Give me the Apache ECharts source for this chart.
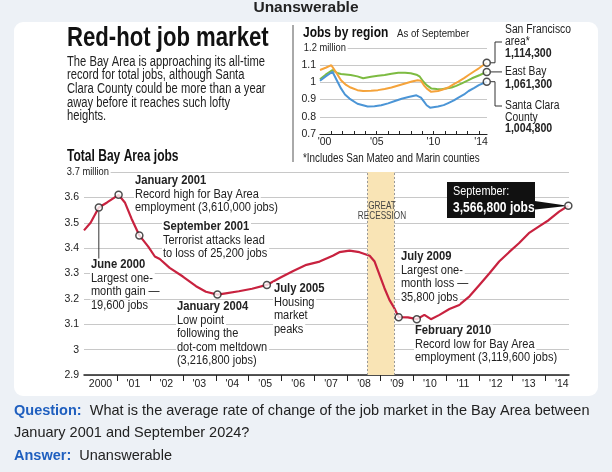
<!DOCTYPE html>
<html>
<head>
<meta charset="utf-8">
<script src="https://cdn.jsdelivr.net/npm/echarts@6/dist/echarts.min.js"></script>
<style>html,body{margin:0;padding:0;background:#edf1f6;}#c{width:612px;height:472px;}</style>
</head>
<body>
<div id="c"></div>
<script>
// ---- Data: Total Bay Area jobs (millions), [year fraction, value]
var totalYears = [2000.0, 2000.2, 2000.45, 2000.7, 2001.05, 2001.24, 2001.44, 2001.68, 2001.95, 2002.15, 2002.3, 2002.6, 2003.0, 2003.4, 2003.7, 2004.05, 2004.3, 2004.7, 2005.1, 2005.55, 2005.95, 2006.35, 2006.75, 2007.15, 2007.55, 2007.75, 2008.06, 2008.36, 2008.67, 2008.82, 2008.97, 2009.12, 2009.27, 2009.42, 2009.55, 2009.83, 2010.1, 2010.33, 2010.53, 2010.79, 2011.09, 2011.39, 2011.7, 2012.0, 2012.3, 2012.6, 2012.9, 2013.2, 2013.5, 2013.8, 2014.1, 2014.42, 2014.7];
var totalJobs  = [3.47, 3.50, 3.56, 3.58, 3.61, 3.58, 3.517, 3.45, 3.406, 3.367, 3.357, 3.322, 3.288, 3.25, 3.228, 3.217, 3.222, 3.23, 3.24, 3.255, 3.283, 3.31, 3.334, 3.347, 3.37, 3.384, 3.39, 3.384, 3.37, 3.347, 3.295, 3.242, 3.196, 3.163, 3.128, 3.127, 3.12, 3.137, 3.12, 3.137, 3.16, 3.176, 3.21, 3.255, 3.30, 3.347, 3.384, 3.419, 3.459, 3.485, 3.51, 3.544, 3.567];
// annotated months
var markYears = [2000.45, 2001.05, 2001.68, 2004.05, 2005.55, 2009.55, 2010.1, 2014.7];
var markJobs  = [3.56, 3.61, 3.45, 3.217, 3.255, 3.128, 3.12, 3.567];
var recession = [2008.6, 2009.42];
var mainTickLabels = ['2000', "'01", "'02", "'03", "'04", "'05", "'06", "'07", "'08", "'09", "'10", "'11", "'12", "'13", "'14"];

// ---- Data: Jobs by region (millions)
var sfYears = [2000.0, 2000.5, 2001.0, 2001.4, 2001.85, 2002.3, 2002.7, 2003.3, 2003.8, 2004.5, 2005.1, 2005.7, 2006.3, 2006.9, 2007.5, 2008.1, 2008.6, 2008.9, 2009.2, 2009.4, 2009.8, 2010.4, 2010.9, 2011.3, 2011.8, 2012.2, 2012.7, 2013.1, 2013.6, 2014.0, 2014.7];
var sfJobs  = [1.072, 1.085, 1.10, 1.06, 1.013, 0.985, 0.97, 0.955, 0.95, 0.952, 0.955, 0.962, 0.97, 0.982, 0.994, 1.005, 1.013, 1.01, 0.98, 0.965, 0.945, 0.95, 0.96, 0.97, 0.99, 1.004, 1.025, 1.043, 1.065, 1.082, 1.114];
var ebYears = [2000.0, 2000.5, 2001.1, 2001.5, 2001.85, 2002.7, 2003.3, 2003.8, 2004.5, 2005.1, 2005.7, 2006.3, 2006.9, 2007.5, 2008.0, 2008.5, 2008.8, 2009.1, 2009.4, 2009.8, 2010.3, 2010.7, 2011.1, 2011.6, 2012.0, 2012.5, 2013.0, 2013.4, 2014.1, 2014.7];
var ebJobs  = [1.018, 1.045, 1.072, 1.055, 1.049, 1.043, 1.035, 1.024, 1.033, 1.038, 1.043, 1.05, 1.056, 1.056, 1.053, 1.045, 1.033, 1.005, 0.984, 0.965, 0.962, 0.96, 0.965, 0.97, 0.98, 0.994, 1.01, 1.024, 1.043, 1.061];
var scYears = [2000.0, 2000.5, 2001.1, 2001.5, 2001.85, 2002.2, 2002.6, 2003.3, 2004.2, 2004.8, 2005.4, 2006.0, 2006.6, 2007.2, 2007.8, 2008.5, 2008.9, 2009.2, 2009.4, 2009.7, 2010.4, 2010.9, 2011.3, 2011.8, 2012.2, 2012.7, 2013.1, 2013.6, 2014.0, 2014.7];
var scJobs  = [1.01, 1.035, 1.062, 1.01, 0.965, 0.93, 0.906, 0.876, 0.86, 0.862, 0.867, 0.878, 0.892, 0.905, 0.915, 0.925, 0.912, 0.885, 0.867, 0.853, 0.86, 0.868, 0.88, 0.895, 0.912, 0.93, 0.95, 0.968, 0.984, 1.004];
var insetTickLabels = ["'00", "'05", "'10", "'14"];
var insetLabelYears = [2000.4, 2005, 2010, 2014.2];

function pairs(xs, ys) { return xs.map(function (x, i) { return [x, ys[i]]; }); }
var yearsInt = []; for (var y = 2001; y <= 2014; y++) yearsInt.push(y);
var midYears = []; for (var m = 2000; m <= 2014; m++) midYears.push(m + 0.5);

var SANS = '"Liberation Sans", Arial, sans-serif';
var RED = '#c8223f';

var chart = echarts.init(document.getElementById('c'), null, { renderer: 'canvas' });

var option = {
  animation: false,
  backgroundColor: '#edf1f6',
  grid: [
    { left: 84, top: 172, width: 485, height: 203 },
    { left: 320, top: 48, width: 167, height: 86 }
  ],
  xAxis: [
    { gridIndex: 0, type: 'value', min: 2000, max: 2014.72,
      axisLine: { show: true, lineStyle: { color: '#222', width: 1.5 } },
      axisTick: { show: true, customValues: yearsInt, length: 6, inside: false, lineStyle: { color: '#222', width: 1 } },
      axisLabel: { show: true, customValues: midYears, margin: 4, fontSize: 10.5, color: '#222', fontFamily: SANS,
        formatter: function (v) { return mainTickLabels[Math.round(v - 0.5) - 2000]; } },
      splitLine: { show: false } },
    { gridIndex: 1, type: 'value', min: 2000, max: 2014.72,
      axisLine: { show: true, lineStyle: { color: '#222', width: 1.2 } },
      axisTick: { show: true, customValues: yearsInt, length: 3, inside: true, lineStyle: { color: '#222', width: 1 } },
      axisLabel: { show: true, customValues: insetLabelYears, margin: 3, fontSize: 10.5, color: '#222', fontFamily: SANS,
        formatter: function (v) { return insetTickLabels[insetLabelYears.indexOf(v)]; } },
      splitLine: { show: false } }
  ],
  yAxis: [
    { gridIndex: 0, type: 'value', min: 2.9, max: 3.7, interval: 0.1,
      axisLine: { show: false }, axisTick: { show: false },
      axisLabel: { margin: 5, fontSize: 10.5, color: '#222', fontFamily: SANS,
        formatter: function (v) { var r = Math.round(v * 10) / 10; if (r === 3.7) return ''; return r === 3 ? '3' : r.toFixed(1); } },
      splitLine: { lineStyle: { color: '#c8c8c8', width: 1 } } },
    { gridIndex: 1, type: 'value', min: 0.7, max: 1.2, interval: 0.1,
      axisLine: { show: false }, axisTick: { show: false },
      axisLabel: { margin: 4, fontSize: 10.5, color: '#222', fontFamily: SANS,
        formatter: function (v) { var r = Math.round(v * 10) / 10; if (r === 1.2) return ''; return r === 1 ? '1' : r.toFixed(1); } },
      splitLine: { lineStyle: { color: '#c8c8c8', width: 1 } } }
  ],
  series: [
    { type: 'line', xAxisIndex: 0, yAxisIndex: 0, data: pairs(totalYears, totalJobs), symbol: 'none',
      lineStyle: { color: RED, width: 2.2 }, z: 4,
      markArea: { silent: true, itemStyle: { color: '#f9e4b5' }, data: [[{ xAxis: recession[0] }, { xAxis: recession[1] }]] },
      markLine: { silent: true, symbol: 'none', label: { show: false },
        lineStyle: { color: '#999', type: [2, 2], width: 1 },
        data: [{ xAxis: recession[0] }, { xAxis: recession[1] }] } },
    { type: 'scatter', xAxisIndex: 0, yAxisIndex: 0, data: pairs(markYears, markJobs), symbol: 'circle', symbolSize: 7,
      itemStyle: { color: '#fff', borderColor: '#222', borderWidth: 1.5 }, z: 6 },
    { type: 'line', xAxisIndex: 1, yAxisIndex: 1, data: pairs(ebYears, ebJobs), symbol: 'none', lineStyle: { color: '#7dbb42', width: 2 }, z: 3 },
    { type: 'line', xAxisIndex: 1, yAxisIndex: 1, data: pairs(sfYears, sfJobs), symbol: 'none', lineStyle: { color: '#f5a33a', width: 2 }, z: 4 },
    { type: 'line', xAxisIndex: 1, yAxisIndex: 1, data: pairs(scYears, scJobs), symbol: 'none', lineStyle: { color: '#4b95d6', width: 2 }, z: 4 },
    { type: 'scatter', xAxisIndex: 1, yAxisIndex: 1,
      data: [[sfYears[sfYears.length - 1], sfJobs[sfJobs.length - 1]], [ebYears[ebYears.length - 1], ebJobs[ebJobs.length - 1]], [scYears[scYears.length - 1], scJobs[scJobs.length - 1]]],
      symbol: 'circle', symbolSize: 7, itemStyle: { color: '#fff', borderColor: '#222', borderWidth: 1.5 }, z: 6 }
  ]
};
chart.setOption(option);

// text helper; sx = horizontal condensing factor (the original uses a condensed face)
function T(x, y, text, size, weight, opts) {
  opts = opts || {};
  return { type: 'text', x: x, y: y, z: opts.z || 20, silent: true, scaleX: opts.sx || 1,
    style: { text: text, fontSize: size, fontWeight: weight || 'normal', fontFamily: SANS,
      fill: opts.color || '#222', verticalAlign: 'middle', align: opts.align || 'left',
      backgroundColor: opts.bg, padding: opts.bg ? [0, 2, 0, 1] : 0 } };
}
function block(x, y0, head, lines, step) {
  var out = [T(x, y0, head, 12.5, 'bold', { bg: '#fff', sx: 0.9 })];
  lines.forEach(function (l, i) { out.push(T(x, y0 + (i + 1) * (step || 13.5), l, 12, 'normal', { bg: '#fff', sx: 0.92 })); });
  return out;
}
function px(idx, pt) { return chart.convertToPixel({ xAxisIndex: idx, yAxisIndex: idx }, pt); }

var g = [];
// card
g.push({ type: 'rect', z: -50, silent: true, shape: { x: 14, y: 22, width: 584, height: 374, r: 9 }, style: { fill: '#ffffff' } });
g.push(T(306, 8, 'Unanswerable', 15.5, 'bold', { align: 'center', color: '#222' }));
// left header
g.push(T(67, 39, 'Red-hot job market', 27, 'bold', { color: '#111', sx: 0.82 }));
['The Bay Area is approaching its all-time', 'record for total jobs, although Santa', 'Clara County could be more than a year', 'away before it reaches such lofty', 'heights.']
  .forEach(function (l, i) { g.push(T(67, 62 + i * 13.6, l, 14, 'normal', { color: '#222', sx: 0.8 })); });
g.push(T(67, 156, 'Total Bay Area jobs', 16.5, 'bold', { color: '#111', sx: 0.73 }));
g.push(T(66, 172, '3.7 million', 11, 'normal', { bg: '#fff', sx: 0.85 }));
// separator
g.push({ type: 'line', silent: true, z: 5, shape: { x1: 293, y1: 25, x2: 293, y2: 162 }, style: { stroke: '#555', lineWidth: 1 } });
// inset header
g.push(T(303, 33, 'Jobs by region', 15, 'bold', { color: '#111', sx: 0.8 }));
g.push(T(397, 34, 'As of September', 11, 'normal', { sx: 0.88 }));
g.push(T(303, 48, '1.2 million', 11, 'normal', { bg: '#fff', sx: 0.85 }));
g.push(T(303, 159, '*Includes San Mateo and Marin counties', 12, 'normal', { sx: 0.82 }));
g.push(T(505, 30, 'San Francisco', 12, 'normal', { sx: 0.86 }));
g.push(T(505, 42, 'area*', 12, 'normal', { sx: 0.86 }));
g.push(T(505, 54, '1,114,300', 12.5, 'bold', { sx: 0.85 }));
g.push(T(505, 72, 'East Bay', 12, 'normal', { sx: 0.86 }));
g.push(T(505, 84.5, '1,061,300', 12.5, 'bold', { sx: 0.85 }));
g.push(T(505, 106, 'Santa Clara', 12, 'normal', { sx: 0.86 }));
g.push(T(505, 117.5, 'County', 12, 'normal', { sx: 0.86 }));
g.push(T(505, 129, '1,004,800', 12.5, 'bold', { sx: 0.85 }));
var pSF = px(1, [sfYears[sfYears.length - 1], sfJobs[sfJobs.length - 1]]);
var pEB = px(1, [ebYears[ebYears.length - 1], ebJobs[ebJobs.length - 1]]);
var pSC = px(1, [scYears[scYears.length - 1], scJobs[scJobs.length - 1]]);
var LS = { stroke: '#333', lineWidth: 1, fill: null };
g.push({ type: 'polyline', silent: true, z: 5, shape: { points: [[pSF[0] + 4, pSF[1]], [495, pSF[1]], [495, 42], [502, 42]] }, style: LS });
g.push({ type: 'polyline', silent: true, z: 5, shape: { points: [[pEB[0] + 4, pEB[1]], [502, pEB[1]]] }, style: LS });
g.push({ type: 'polyline', silent: true, z: 5, shape: { points: [[pSC[0] + 4, pSC[1]], [495, pSC[1]], [495, 106], [502, 106]] }, style: LS });

// main annotations
g = g.concat(block(134, 181, 'January 2001', ['Record high for Bay Area', 'employment (3,610,000 jobs)']));
g = g.concat(block(162, 227, 'September 2001', ['Terrorist attacks lead', 'to loss of 25,200 jobs']));
g = g.concat(block(90, 265, 'June 2000', ['Largest one-', 'month gain \u2014', '19,600 jobs']));
g = g.concat(block(176, 307, 'January 2004', ['Low point', 'following the', 'dot-com meltdown', '(3,216,800 jobs)']));
g = g.concat(block(273, 289, 'July 2005', ['Housing', 'market', 'peaks']));
g = g.concat(block(400, 257, 'July 2009', ['Largest one-', 'month loss \u2014', '35,800 jobs']));
g = g.concat(block(414, 331, 'February 2010', ['Record low for Bay Area', 'employment (3,119,600 jobs)']));
g.push(T(382, 206, 'GREAT', 10, 'normal', { align: 'center', color: '#444', sx: 0.82 }));
g.push(T(382, 216, 'RECESSION', 10, 'normal', { align: 'center', color: '#444', sx: 0.82 }));
// June 2000 connector
var pJune = px(0, [markYears[0], markJobs[0]]);
g.push({ type: 'line', silent: true, z: 5, shape: { x1: pJune[0], y1: pJune[1] + 4, x2: pJune[0], y2: 259 }, style: { stroke: '#333', lineWidth: 1 } });
// September callout
var pSep = px(0, [markYears[7], markJobs[7]]);
g.push({ type: 'polygon', silent: true, z: 7, shape: { points: [[533, pSep[1] - 5], [533, pSep[1] + 4], [pSep[0] - 4, pSep[1] + 0.5], [pSep[0] - 4, pSep[1] - 0.5]] }, style: { fill: '#111' } });
g.push({ type: 'rect', silent: true, z: 8, shape: { x: 447, y: 182, width: 88, height: 36 }, style: { fill: '#111' } });
g.push(T(453, 192, 'September:', 12.5, 'normal', { color: '#fff', z: 9, sx: 0.87 }));
g.push(T(453, 208, '3,566,800 jobs', 14.5, 'bold', { color: '#fff', z: 9, sx: 0.83 }));

// question / answer
var RICHQ = { q: { fontSize: 14.5, fontWeight: 'bold', fill: '#1f5fbf', fontFamily: SANS } };
g.push({ type: 'text', x: 14, y: 411, z: 20, silent: true, style: { text: '{q|Question:}  What is the average rate of change of the job market in the Bay Area between', fontSize: 14.5, fontFamily: SANS, fill: '#222', verticalAlign: 'middle', rich: RICHQ } });
g.push(T(14, 433, 'January 2001 and September 2024?', 14.5, 'normal'));
g.push({ type: 'text', x: 14, y: 456, z: 20, silent: true, style: { text: '{q|Answer:}  Unanswerable', fontSize: 14.5, fontFamily: SANS, fill: '#222', verticalAlign: 'middle', rich: RICHQ } });

chart.setOption({ graphic: { elements: g } });
</script>
</body>
</html>
